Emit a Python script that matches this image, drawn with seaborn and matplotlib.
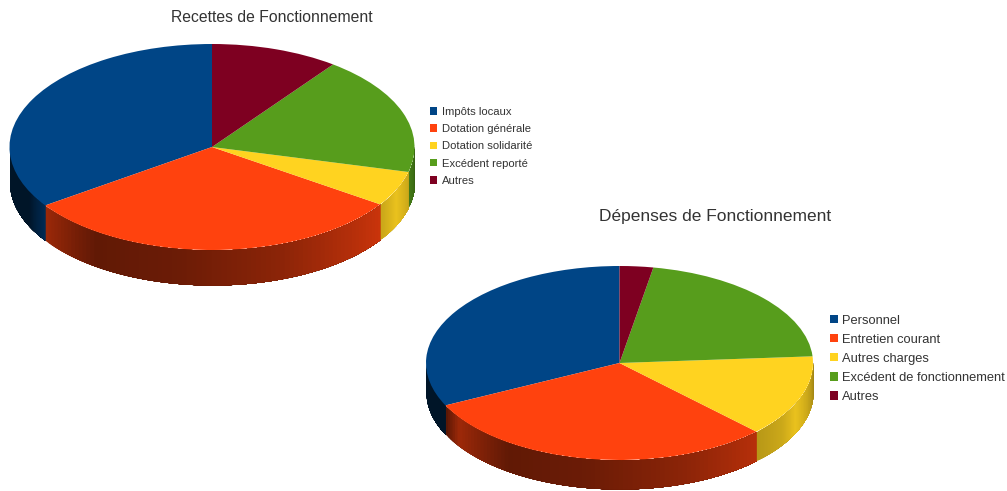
import numpy as np
import matplotlib
matplotlib.use('Agg')
import matplotlib.pyplot as plt
import seaborn as sns

W = 1007
H = 491

couleurs = ['#004586', '#ff420e', '#ffd320', '#579d1c', '#7e0021']

recettes_labels = ['Impôts locaux', 'Dotation générale', 'Dotation solidarité', 'Excédent reporté', 'Autres']
recettes_vals = [34.6, 31.0, 5.5, 18.7, 10.2]

depenses_labels = ['Personnel', 'Entretien courant', 'Autres charges', 'Excédent de fonctionnement', 'Autres']
depenses_vals = [32.2, 30.3, 13.6, 21.1, 2.8]

sns.set_theme(style='white')
plt.rcParams['font.family'] = ['Liberation Sans', 'DejaVu Sans']

# assombrissement du bord selon l'angle (degres)
shade_ang = [180, 205, 214, 235, 260, 290, 327, 335, 360]
shade_val = [0.30, 0.30, 0.62, 0.38, 0.42, 0.55, 0.80, 0.92, 0.62]


def camembert(fig, vals, cx, cy, rx, ry, depth, leg_labels, leg_xy, fs, spacing, pad):
    ax = fig.add_axes([(cx - rx) / W, 1 - (cy + ry + depth) / H, 2 * rx / W, (2 * ry + depth) / H])
    # le bord d'abord : chaque bande va jusqu'au bout de la tranche, la suivante la recouvre
    angles = 90 + np.cumsum([0] + vals) * 3.6
    for i, c in enumerate(couleurs):
        debut = max(angles[i], 180)
        fin = min(angles[i + 1], 360)
        if debut >= fin:
            continue
        t = np.linspace(debut, fin, 80)
        for j in range(len(t) - 1):
            s = np.interp((t[j] + t[j + 1]) / 2, shade_ang, shade_val)
            tt = np.radians(t[j:])
            rgb = np.array(matplotlib.colors.to_rgb(c)) * s
            ax.fill_between(np.cos(tt), np.sin(tt), np.sin(tt) - depth / ry, color=rgb, lw=0)
    wedges, _ = ax.pie(vals, colors=couleurs, startangle=90, radius=1, wedgeprops={'linewidth': 0})
    ax.set_aspect('auto')
    ax.set_xlim(-1, 1)
    ax.set_ylim(-1 - depth / ry, 1)
    ax.axis('off')
    for w in wedges:
        w.set_clip_on(False)
    fig.legend(wedges, leg_labels, loc='upper left', bbox_to_anchor=(leg_xy[0] / W, 1 - leg_xy[1] / H),
               frameon=False, fontsize=fs, labelcolor='#333333', handlelength=0.65, handleheight=0.65,
               handletextpad=pad, labelspacing=spacing, borderpad=0, borderaxespad=0)


fig = plt.figure(figsize=(W / 100, H / 100), dpi=100)
camembert(fig, recettes_vals, 212, 147, 202.5, 103, 35, recettes_labels, (430, 107), 8.1, 0.64, 0.45)
camembert(fig, depenses_vals, 619.5, 363, 193.5, 97, 29, depenses_labels, (830, 314.5), 9.3, 0.55, 0.31)

fig.text(272 / W, 1 - 18 / H, 'Recettes de Fonctionnement', ha='center', va='center', fontsize=11.3, color='#333333')
fig.text(715 / W, 1 - 217 / H, 'Dépenses de Fonctionnement', ha='center', va='center', fontsize=12.5, color='#333333')

fig.savefig('out.png', dpi=100)
